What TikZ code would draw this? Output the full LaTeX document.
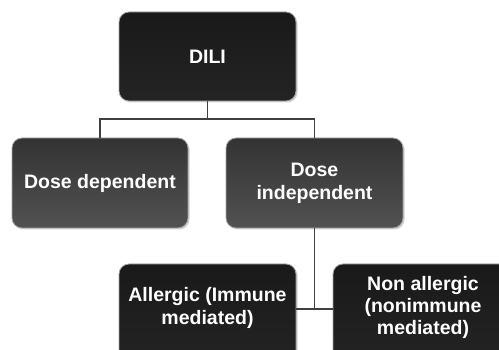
\documentclass[tikz,border=0pt]{standalone}
\usepackage{fontspec}
\setmainfont{Liberation Sans}
\usetikzlibrary{shadows}
\begin{document}
\begin{tikzpicture}[x=1pt,y=1pt,
  txt/.style={text=white, font=\bfseries\fontsize{19.5}{23}\selectfont, align=center},
  box/.style={rounded corners=10pt, draw=gray!70, line width=0.8pt, txt, inner sep=0pt,
    drop shadow={shadow xshift=1.5pt, shadow yshift=-1.5pt, opacity=0.35}},
  darkbox/.style={box, top color=black!90, bottom color=black!86},
  midbox/.style={box, top color=black!80, bottom color=black!68},
  link/.style={draw=black!75, line width=1.2pt}]
\useasboundingbox (0,0) rectangle (499,350);
\fill[white] (0,0) rectangle (499,350);
\node[darkbox, minimum width=177pt, minimum height=89pt] (dili) at (207.5,293.5) {DILI};
\node[midbox, minimum width=176pt, minimum height=90pt] (dd) at (100,167) {Dose dependent};
\node[midbox, minimum width=177pt, minimum height=90pt] (di) at (314.5,167) {Dose\\independent};
\begin{scope}
\clip (0,0) rectangle (499,350);
\node[darkbox, minimum width=177pt, minimum height=100pt] (al) at (207.5,36) {};
\node[darkbox, minimum width=180pt, minimum height=100pt] (na) at (423,36) {};
\end{scope}
\node[txt] (alt) at (207.5,42) {Allergic (Immune\\mediated)};
\node[txt, font=\bfseries\fontsize{19.5}{22}\selectfont] (nat) at (423,43) {Non allergic\\(nonimmune\\mediated)};
\coordinate (j1) at (207.5,231);
\draw[link] (dili.south) -- (j1);
\draw[link] (dd.north) |- (j1) -| (di.north);
\coordinate (j2) at (314.5,41);
\draw[link] (di.south) -- (j2);
\draw[link] (al.east |- j2) -- (na.west |- j2);
\end{tikzpicture}
\end{document}
